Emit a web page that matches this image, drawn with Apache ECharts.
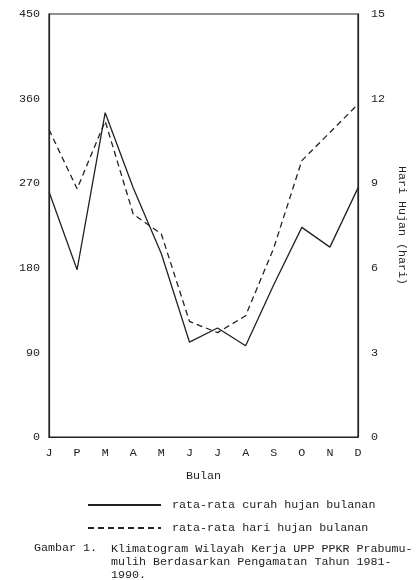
<!DOCTYPE html>
<html>
<head>
<meta charset="utf-8">
<script src="https://cdn.jsdelivr.net/npm/echarts@6/dist/echarts.min.js"></script>
<style>
  html, body { margin: 0; padding: 0; background: #fff; }
  #main { width: 419px; height: 580px; }
</style>
</head>
<body>
<div id="main"></div>
<script>
const months = ['J', 'P', 'M', 'A', 'M', 'J', 'J', 'A', 'S', 'O', 'N', 'D'];
// rata-rata curah hujan bulanan (mm), left axis
const curahHujan = [261, 178, 345, 265, 195, 101, 116, 97, 162, 223, 202, 265];
// rata-rata hari hujan bulanan (hari), right axis
const hariHujan = [10.9, 8.8, 11.2, 7.9, 7.2, 4.1, 3.7, 4.3, 6.7, 9.8, 10.8, 11.8];
const leftTicks = [0, 90, 180, 270, 360, 450];
const rightTicks = [0, 3, 6, 9, 12, 15];

const ink = '#222';
const font = '"Liberation Mono", "DejaVu Sans Mono", monospace';
const fs = 11.7;

const chart = echarts.init(document.getElementById('main'));
const option = {
    backgroundColor: '#fff',
    animation: false,
    textStyle: { fontFamily: font, color: ink },
    grid: {
        left: 49, right: 61, top: 14, bottom: 143,
        show: true, borderColor: ink, borderWidth: 1.2
    },
    legend: {
        orient: 'vertical',
        left: 82, top: 494,
        itemWidth: 73, itemHeight: 12, itemGap: 11,
        itemStyle: { opacity: 0 },
        textStyle: { fontFamily: font, fontSize: fs, color: ink, padding: [0, 0, 0, 6] },
        data: ['rata-rata curah hujan bulanan', 'rata-rata hari hujan bulanan']
    },
    xAxis: {
        type: 'category',
        data: months,
        boundaryGap: false,
        axisLine: { lineStyle: { color: ink, width: 1.2 } },
        axisTick: { show: false },
        axisLabel: { fontFamily: font, fontSize: fs, color: ink, margin: 10 },
        name: 'Bulan',
        nameLocation: 'middle',
        nameGap: 33,
        nameTextStyle: { fontFamily: font, fontSize: fs, color: ink }
    },
    yAxis: [
        {
            type: 'value', min: leftTicks[0], max: leftTicks[leftTicks.length - 1], interval: 90,
            axisLine: { show: true, lineStyle: { color: ink, width: 1.2 } },
            axisTick: { show: false },
            splitLine: { show: false },
            axisLabel: { fontFamily: font, fontSize: fs, color: ink, margin: 9 }
        },
        {
            type: 'value', min: rightTicks[0], max: rightTicks[rightTicks.length - 1], interval: 3,
            position: 'right',
            axisLine: { show: true, lineStyle: { color: ink, width: 1.2 } },
            axisTick: { show: false },
            splitLine: { show: false },
            axisLabel: { fontFamily: font, fontSize: fs, color: ink, margin: 13 },
            name: 'Hari Hujan (hari)',
            nameLocation: 'middle',
            nameRotate: -90,
            nameGap: 37,
            nameTextStyle: { fontFamily: font, fontSize: fs, color: ink }
        }
    ],
    series: [
        {
            name: 'rata-rata curah hujan bulanan',
            type: 'line',
            yAxisIndex: 0,
            data: curahHujan,
            symbol: 'none',
            lineStyle: { color: ink, width: 1.3, type: 'solid' },
            itemStyle: { color: ink }
        },
        {
            name: 'rata-rata hari hujan bulanan',
            type: 'line',
            yAxisIndex: 1,
            data: hariHujan,
            symbol: 'none',
            lineStyle: { color: ink, width: 1.3, type: [6, 4] },
            itemStyle: { color: ink }
        }
    ],
    graphic: [
        { type: 'text', left: 34, top: 542, style: { text: 'Gambar 1.', font: fs + 'px ' + font, fill: ink } },
        { type: 'text', left: 111, top: 542, style: {
            text: 'Klimatogram Wilayah Kerja UPP PPKR Prabumu-\nmulih Berdasarkan Pengamatan Tahun 1981-\n1990.',
            font: fs + 'px ' + font, fill: ink, lineHeight: 13 } }
    ]
};
chart.setOption(option);
</script>
</body>
</html>
